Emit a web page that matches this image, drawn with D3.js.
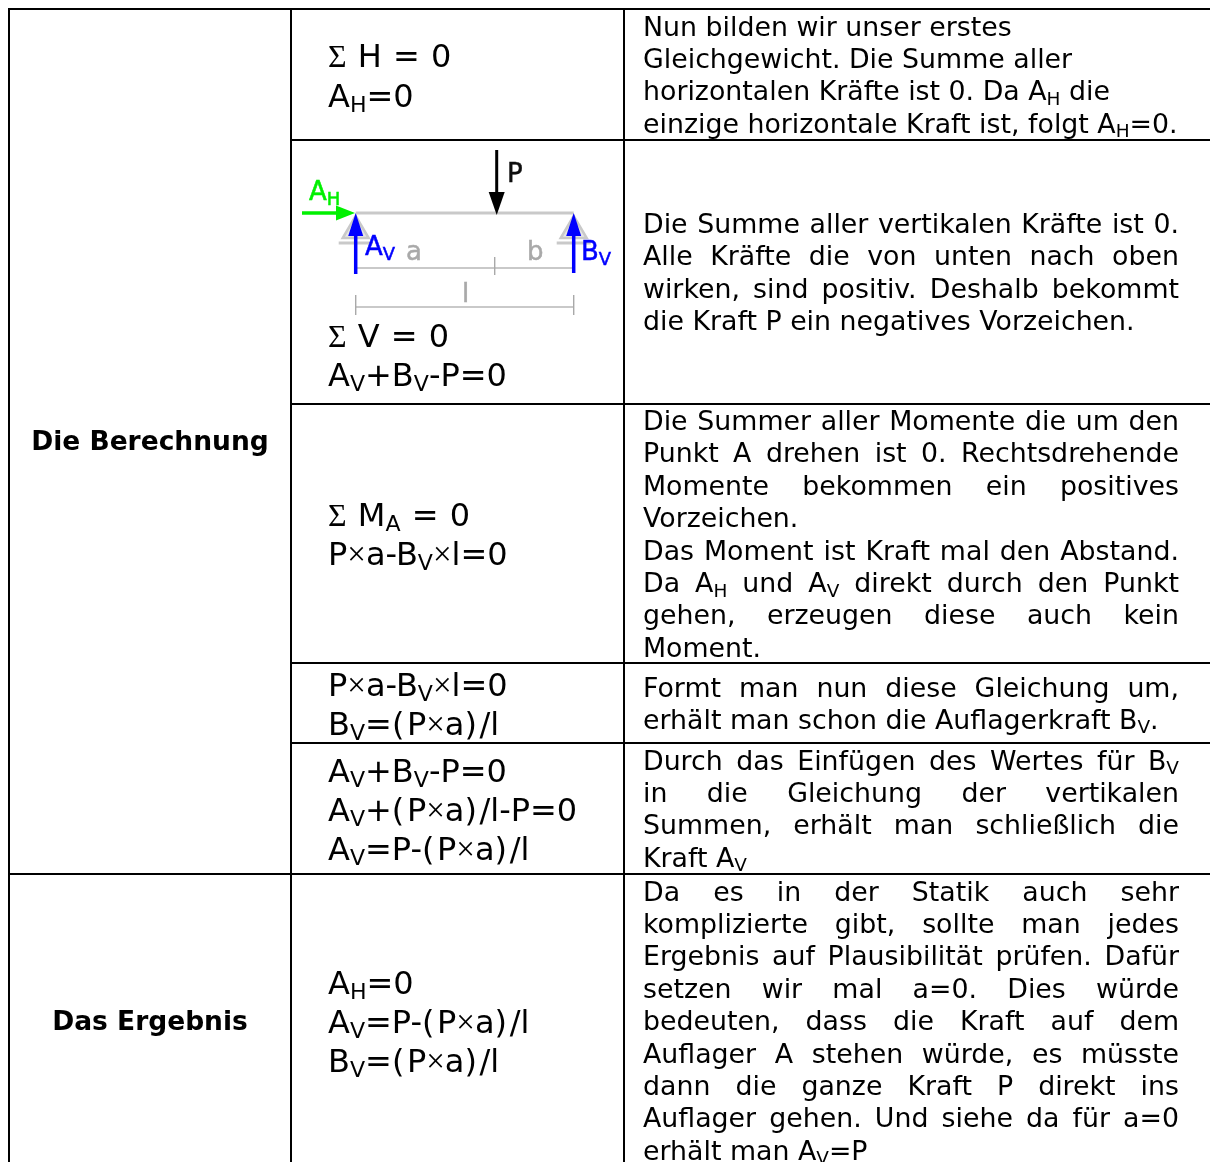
<!DOCTYPE html>
<html><head><meta charset="utf-8">
<script src="https://cdn.jsdelivr.net/npm/d3@7"></script>
<style>html,body{margin:0;padding:0;background:#fff;overflow:hidden}svg{display:block}</style>
</head><body><div id="c"></div>
<script>
// ---- content ----
const sectionTitles = ["Die Berechnung", "Das Ergebnis"];
const equations = [
  ["§ H = 0", "A{H}=0"],
  ["§ V = 0", "A{V}+B{V}-P=0"],
  ["§ M{A} = 0", "P×a-B{V}×l=0"],
  ["P×a-B{V}×l=0", "B{V}=(P×a)/l"],
  ["A{V}+B{V}-P=0", "A{V}+(P×a)/l-P=0", "A{V}=P-(P×a)/l"],
  ["A{H}=0", "A{V}=P-(P×a)/l", "B{V}=(P×a)/l"]
];
// a trailing "|" marks a justified line
const descriptions = [
  ["Nun bilden wir unser erstes", "Gleichgewicht. Die Summe aller", "horizontalen Kräfte ist 0. Da A{H} die", "einzige horizontale Kraft ist, folgt A{H}=0."],
  ["Die Summe aller vertikalen Kräfte ist 0.|", "Alle Kräfte die von unten nach oben|", "wirken, sind positiv. Deshalb bekommt|", "die Kraft P ein negatives Vorzeichen."],
  ["Die Summer aller Momente die um den|", "Punkt A drehen ist 0. Rechtsdrehende|", "Momente bekommen ein positives|", "Vorzeichen.", "Das Moment ist Kraft mal den Abstand.|", "Da A{H} und A{V} direkt durch den Punkt|", "gehen, erzeugen diese auch kein|", "Moment."],
  ["Formt man nun diese Gleichung um,|", "erhält man schon die Auflagerkraft B{V}."],
  ["Durch das Einfügen des Wertes für B{V}|", "in die Gleichung der vertikalen|", "Summen, erhält man schließlich die|", "Kraft A{V}"],
  ["Da es in der Statik auch sehr|", "komplizierte gibt, sollte man jedes|", "Ergebnis auf Plausibilität prüfen. Dafür|", "setzen wir mal a=0. Dies würde|", "bedeuten, dass die Kraft auf dem|", "Auflager A stehen würde, es müsste|", "dann die ganze Kraft P direkt ins|", "Auflager gehen. Und siehe da für a=0|", "erhält man A{V}=P"]
];
// beam diagram: span in length units
const spanLength = 218, loadPosition = 141, dimensionSplit = 139;
const beamLabels = {load:"P", horizontal:"A{H}", left:"A{V}", right:"B{V}", a:"a", b:"b", l:"l"};

// ---- layout ----
const W = 1210, H = 1162;
const colX = [9, 291, 624], rowY = [9, 140, 404, 663, 743, 874];
const sectionY = [441, 1021];
const eqBase = [[67,107],[347,386],[526,565],[696,735],[782,821,860],[994,1033,1072]];
const descBase = [35.5, 233, 430, 696.5, 769.5, 900.5];
const descLH = 32.4, descX = 643, descR = 1179, eqX = 328, descSize = 26.8, eqSize = 32;
const F = '"DejaVu Sans", Verdana, sans-serif';

const svg = d3.select("#c").append("svg").attr("width",W).attr("height",H);
const defs = svg.append("defs");
defs.append("filter").attr("id","soft").append("feGaussianBlur").attr("stdDeviation",0.3);
const gridG = svg.append("g").attr("shape-rendering","crispEdges");
const root = svg.append("g").attr("filter","url(#soft)");

function rich(sel, s, size, subDy, wide){
  const parts = s.split(/(\{[^}]*\}|§|×|\(|\))/).filter(p=>p!=="");
  let pend = 0;
  parts.forEach(p=>{
    let t;
    if(p[0]==="{"){
      t = sel.append("tspan").attr("font-size",size*0.69).attr("dy",subDy+pend).text(p.slice(1,-1));
      pend = -subDy; return;
    } else if(p==="§"||p==="×"){
      t = sel.append("tspan").attr("font-family",'"Liberation Serif",serif').attr("font-size",size*(p==="§"?1.0:1.03)).text(p==="§"?"Σ":"×");
    } else if(p==="("||p===")"){
      t = sel.append("tspan").text(p);
      if(wide) t.style("letter-spacing","2.6px");
    } else t = sel.append("tspan").text(p);
    if(pend){ t.attr("dy",pend); pend = 0; }
  });
}

// grid
const gridLines = [
  [colX[0]-1,rowY[0],W,rowY[0]],
  [colX[0],rowY[0],colX[0],H],
  [colX[1],rowY[0],colX[1],H],
  [colX[2],rowY[0],colX[2],H],
  ...rowY.slice(1,5).map(y=>[colX[1],y,W,y]),
  [colX[0],rowY[5],W,rowY[5]]
];
gridG.selectAll("line.grid").data(gridLines).join("line").attr("class","grid")
  .attr("x1",d=>d[0]).attr("y1",d=>d[1]).attr("x2",d=>d[2]).attr("y2",d=>d[3])
  .attr("stroke","#000").attr("stroke-width",2);

// section titles
root.selectAll("text.sec").data(sectionTitles).join("text").attr("class","sec")
  .attr("x",150).attr("y",(d,i)=>sectionY[i]+9).attr("text-anchor","middle")
  .attr("font-family",F).attr("font-weight","bold").attr("font-size",26.5).attr("fill","#000").text(d=>d);

// equations
equations.forEach((lines,r)=>lines.forEach((l,i)=>{
  const t = root.append("text").attr("x",eqX).attr("y",eqBase[r][i]).attr("font-family",F).attr("font-size",eqSize).attr("fill","#000").style("word-spacing","1px");
  rich(t,l,eqSize,5,true);
}));

// descriptions
descriptions.forEach((lines,r)=>lines.forEach((l,i)=>{
  const just = l.endsWith("|"), s = just?l.slice(0,-1):l;
  const t = root.append("text").attr("x",descX).attr("y",descBase[r]+i*descLH).attr("font-family",F).attr("font-size",descSize).attr("fill","#000");
  rich(t,s,descSize,4.5,false);
  if(just){
    const gaps = s.split(" ").length-1, len = t.node().getComputedTextLength();
    t.style("word-spacing",((descR-descX-len)/gaps)+"px");
  }
}));

// beam diagram
const bx = d3.scaleLinear().domain([0,spanLength]).range([355.7,573.7]);
const beamY = 213, dimY1 = 268, dimY2 = 307;
const gray = "#c9c9c9", dgray="#a9a9a9";
const dia = root.append("g");
const seg = (a,b,c,d,col,w)=>dia.append("line").attr("x1",a).attr("y1",b).attr("x2",c).attr("y2",d).attr("stroke",col).attr("stroke-width",w);
seg(bx(0),beamY,bx(spanLength),beamY,gray,2.8);
seg(bx(0),dimY1,bx(spanLength),dimY1,gray,2.2);
seg(bx(dimensionSplit),257,bx(dimensionSplit),275,dgray,1.4);
seg(bx(0),dimY2,bx(spanLength),dimY2,gray,2.2);
seg(bx(0),295,bx(0),315,dgray,1.4);
seg(bx(spanLength),295,bx(spanLength),315,dgray,1.4);
[0,spanLength].forEach(v=>{
  const x = bx(v);
  dia.append("path").attr("d",d3.line()([[x,216],[x-13,238],[x+13,238]])+"Z").attr("fill","#e6e6e6").attr("stroke",gray).attr("stroke-width",2.5);
  seg(x-17,243,x+17,243,gray,3);
});
function arrow(x1,y1,x2,y2,col,w,hl,hw){
  const a=Math.atan2(y2-y1,x2-x1),ux=Math.cos(a),uy=Math.sin(a);
  const bxx=x2-ux*hl,byy=y2-uy*hl;
  seg(x1,y1,bxx,byy,col,w);
  dia.append("path").attr("d",d3.line()([[x2,y2],[bxx-uy*hw/2,byy+ux*hw/2],[bxx+uy*hw/2,byy-ux*hw/2]])+"Z").attr("fill",col);
}
arrow(bx(loadPosition),150,bx(loadPosition),215,"#000",3,23,16);
arrow(bx(0),274,bx(0),213,"#0000ff",3.5,23,15);
arrow(bx(spanLength),273,bx(spanLength),213,"#0000ff",3.5,23,15);
arrow(302,213,355,213,"#00f000",3.5,19,15);
const lab=(x,y,s,col,size)=>{const t=dia.append("text").attr("x",x).attr("y",y).attr("font-family",F).attr("font-size",size).attr("fill",col).attr("stroke",col).attr("stroke-width",0.5);rich(t,s,size,5,false);};
lab(507,182,beamLabels.load,"#111",26);
lab(309,200,beamLabels.horizontal,"#00f000",26);
lab(365,255,beamLabels.left,"#0000ff",26);
lab(581,260,beamLabels.right,"#0000ff",26);
lab(406,260,beamLabels.a,"#a9a9a9",26);
lab(527,260,beamLabels.b,"#a9a9a9",26);
lab(462,302,beamLabels.l,"#a9a9a9",26);
</script></body></html>
